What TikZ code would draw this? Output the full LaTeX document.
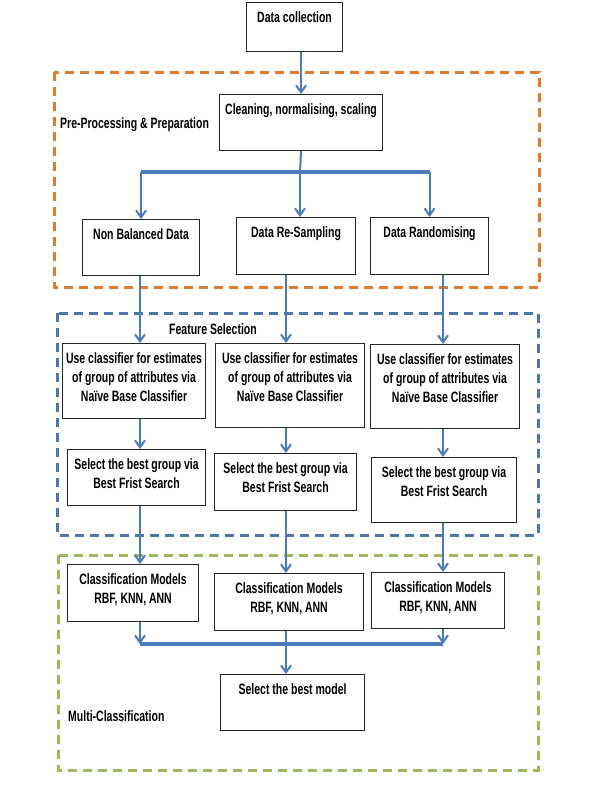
\documentclass[tikz,border=0pt]{standalone}
\usepackage{fontspec}
\setmainfont{Liberation Sans}[FakeStretch=0.7]
\usetikzlibrary{arrows.meta}

\definecolor{flowblue}{RGB}{74,124,185}
\definecolor{preporange}{RGB}{226,124,45}
\definecolor{featblue}{RGB}{78,118,170}
\definecolor{classgreen}{RGB}{158,184,92}
\newcommand{\boxlines}[3]{\parbox[t][#2][t]{#1}{\centering #3}}

\begin{document}
\begin{tikzpicture}[x=1pt,y=-1pt,
		>={Straight Barb[length=7pt,width=10pt]},
		box/.style={draw=black!85,line width=1.1pt,anchor=north west,inner xsep=0pt,inner ysep=9pt,
			font=\bfseries\fontsize{15}{19}\selectfont},
		caption/.style={anchor=west,inner sep=0pt,font=\bfseries\fontsize{15}{19}\selectfont},
		arr/.style={->,draw=flowblue,line width=2pt},
		bar/.style={draw=flowblue,line width=3.5pt},
		stage/.style={dash pattern=on 9pt off 6pt,line width=3pt}]

	\fill[white] (0,0) rectangle (593,785);
	\useasboundingbox (0,0) rectangle (593,785);

	\draw[stage,preporange] (54,72) rectangle (539,287);
	\draw[stage,featblue] (57,313) rectangle (538,535);
	\draw[stage,classgreen] (58,555) rectangle (538,770);

	\node [caption] (cap-prep) at (60,125) {Pre-Processing \& Preparation};
	\node [caption,anchor=center] (cap-feat) at (213,329) {Feature Selection};
	\node [caption] (cap-multi) at (68,716) {Multi-Classification};

	\coordinate (col-a) at (140,0);
	\coordinate (col-b) at (286,0);
	\coordinate (col-c) at (443,0);
	\coordinate (split-top) at (300,172);
	\coordinate (merge-bot) at (286,644);

	\node [box] (box-data) at (246,2) {\boxlines{96pt}{31pt}{Data collection}};
	\node [box] (box-clean) at (219,94) {\boxlines{163pt}{38pt}{Cleaning, normalising, scaling}};

	\node [box] (box-nonbal) at (82,219) {\boxlines{117pt}{38pt}{Non Balanced Data}};
	\node [box] (box-resamp) at (236,217) {\boxlines{119pt}{39pt}{Data Re-Sampling}};
	\node [box] (box-random) at (370,217) {\boxlines{118pt}{39pt}{Data Randomising}};

	\node [box] (box-use-a) at (62,343) {\boxlines{143pt}{57pt}{Use classifier for estimates\\of group of attributes via\\Na\"ive Base Classifier}};
	\node [box] (box-use-b) at (215,343) {\boxlines{149pt}{66pt}{Use classifier for estimates\\of group of attributes via\\Na\"ive Base Classifier}};
	\node [box] (box-use-c) at (370,344) {\boxlines{149pt}{66pt}{Use classifier for estimates\\of group of attributes via\\Na\"ive Base Classifier}};

	\node [box] (box-sel-a) at (67,449) {\boxlines{138pt}{38pt}{Select the best group via\\Best Frist Search}};
	\node [box] (box-sel-b) at (214,453) {\boxlines{142pt}{39pt}{Select the best group via\\Best Frist Search}};
	\node [box] (box-sel-c) at (371,457) {\boxlines{145pt}{47pt}{Select the best group via\\Best Frist Search}};

	\node [box] (box-cls-a) at (67,564) {\boxlines{131pt}{39pt}{Classification Models\\RBF, KNN, ANN}};
	\node [box] (box-cls-b) at (214,573) {\boxlines{149pt}{39pt}{Classification Models\\RBF, KNN, ANN}};
	\node [box] (box-cls-c) at (371,572) {\boxlines{133pt}{38pt}{Classification Models\\RBF, KNN, ANN}};

	\node [box] (box-best) at (220,674) {\boxlines{144pt}{38pt}{Select the best model}};

	\draw[arr] (box-clean.north |- box-data.south) -- (box-clean.north);
	\draw[flowblue,line width=2pt] (box-clean.south) -- (split-top);
	\draw[bar] (box-nonbal.north |- split-top) -- (box-random.north |- split-top);
	\draw[arr] (split-top) -- (split-top |- box-resamp.north);
	\draw[arr] (box-nonbal.north |- split-top) -- (box-nonbal.north);
	\draw[arr] (box-random.north |- split-top) -- (box-random.north);

	\draw[arr] (box-nonbal.south -| col-a) -- (box-use-a.north -| col-a);
	\draw[arr] (box-resamp.south -| col-b) -- (box-use-b.north -| col-b);
	\draw[arr] (box-random.south -| col-c) -- (box-use-c.north -| col-c);

	\draw[arr] (box-use-a.south -| col-a) -- (box-sel-a.north -| col-a);
	\draw[arr] (box-use-b.south -| col-b) -- (box-sel-b.north -| col-b);
	\draw[arr] (box-use-c.south -| col-c) -- (box-sel-c.north -| col-c);

	\draw[arr] (box-sel-a.south -| col-a) -- (box-cls-a.north -| col-a);
	\draw[arr] (box-sel-b.south -| col-b) -- (box-cls-b.north -| col-b);
	\draw[arr] (box-sel-c.south -| col-c) -- (box-cls-c.north -| col-c);

	\draw[bar] (merge-bot -| col-a) -- (merge-bot -| col-c);
	\draw[arr] (box-cls-a.south -| col-a) -- (merge-bot -| col-a);
	\draw[arr] (box-cls-c.south -| col-c) -- (merge-bot -| col-c);
	\draw[arr] (box-cls-b.south -| col-b) -- (box-best.north -| col-b);
\end{tikzpicture}
\end{document}
